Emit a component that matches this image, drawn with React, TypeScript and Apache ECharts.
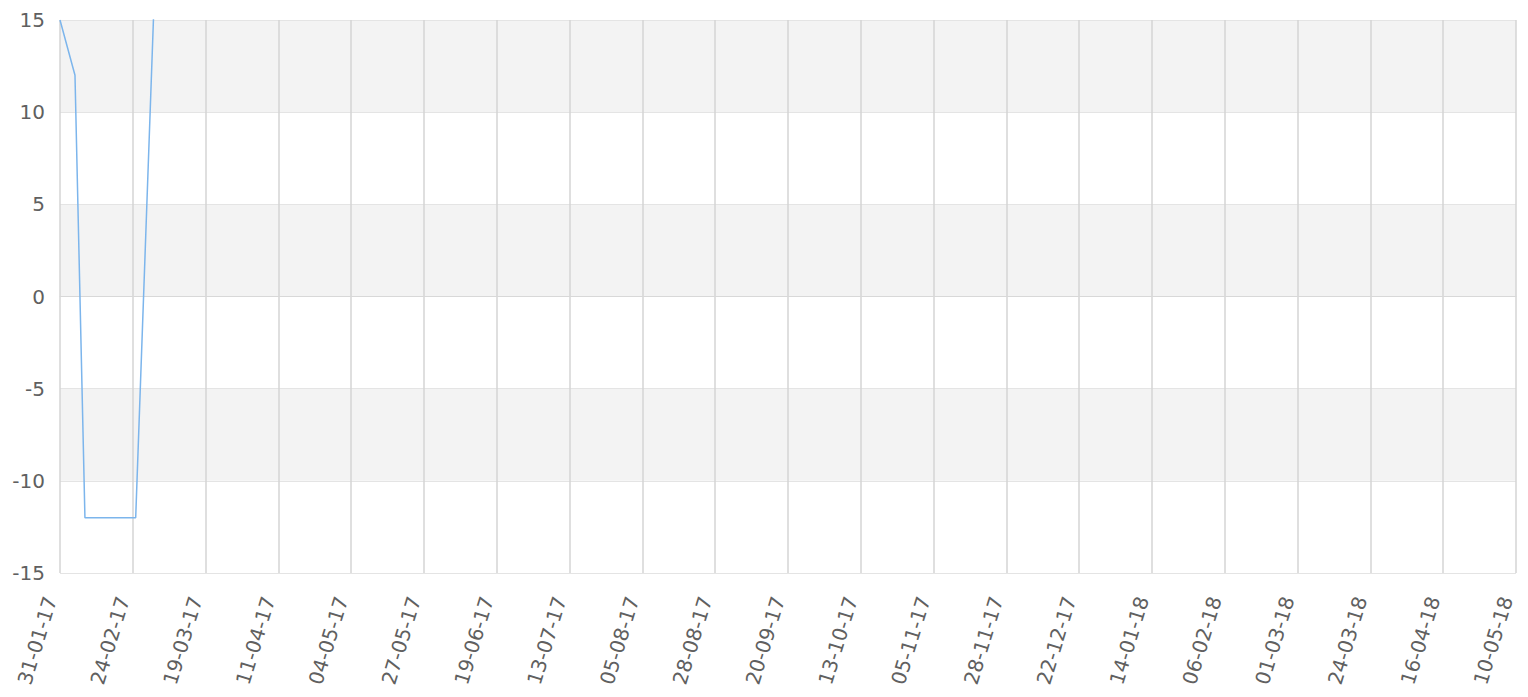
import React, { useEffect, useRef } from "react";
import * as echarts from "echarts";

// Data (dates in UTC, values)
const pointDates: string[] = [
  "2017-01-31T21:36:00Z",
  "2017-02-05T16:00:00Z",
  "2017-02-08T20:00:00Z",
  "2017-02-24T23:30:00Z",
  "2017-03-03T23:30:00Z",
];
const pointValues: number[] = [15, 12, -12, -12, 21.5];

// Axis settings
const AXIS_START_ISO = "2017-01-31T21:36:00Z";
const TICK_COUNT = 20;
const TICK_STEP_DAYS = 23.16;
const yTicks: number[] = [-15, -10, -5, 0, 5, 10, 15];

const DAY_MS = 86400000;
const axisStartMs = Date.parse(AXIS_START_ISO);

function dayOffset(iso: string): number {
  return (Date.parse(iso) - axisStartMs) / DAY_MS;
}

function fmtDate(v: number): string {
  const d = new Date(axisStartMs + v * DAY_MS);
  const dd = String(d.getUTCDate()).padStart(2, "0");
  const mm = String(d.getUTCMonth() + 1).padStart(2, "0");
  const yy = String(d.getUTCFullYear() % 100).padStart(2, "0");
  return `${dd}-${mm}-${yy}`;
}

const FONT = "DejaVu Sans";
const LABEL_COLOR = "#606060";

export default function App() {
  const ref = useRef<HTMLDivElement>(null);
  useEffect(() => {
    if (!ref.current) return;
    const chart = echarts.init(ref.current, undefined, { renderer: "svg" });
    const seriesData = pointDates.map((d, i) => [dayOffset(d), pointValues[i]]);
    chart.setOption({
      animation: false,
      backgroundColor: "#ffffff",
      grid: { left: 60, right: 12, top: 20, bottom: 124, containLabel: false },
      xAxis: {
        type: "value",
        min: 0,
        max: TICK_COUNT * TICK_STEP_DAYS,
        interval: TICK_STEP_DAYS,
        axisLine: { show: true, lineStyle: { color: "#d8d8d8", width: 1 } },
        axisTick: { show: false },
        splitLine: { show: true, lineStyle: { color: "#d4d4d4", width: 1.5 } },
        axisLabel: {
          rotate: 73,
          margin: 27,
          verticalAlign: "bottom",
          color: LABEL_COLOR,
          fontFamily: FONT,
          fontSize: 20,
          showMinLabel: true,
          showMaxLabel: true,
          formatter: (v: number) => fmtDate(v),
        },
      },
      yAxis: {
        type: "value",
        min: yTicks[0],
        max: yTicks[yTicks.length - 1],
        interval: 5,
        axisLine: { show: false },
        axisTick: { show: false },
        splitLine: { show: true, lineStyle: { color: "#e4e4e4", width: 1 } },
        splitArea: { show: true, areaStyle: { color: ["#ffffff", "#f3f3f3"] } },
        axisLabel: {
          margin: 15,
          color: LABEL_COLOR,
          fontFamily: FONT,
          fontSize: 20,
        },
      },
      series: [
        {
          type: "line",
          data: seriesData,
          showSymbol: false,
          symbol: "none",
          clip: true,
          lineStyle: { color: "#7cb5ec", width: 1.5 },
        },
      ],
    });
    return () => chart.dispose();
  }, []);
  return (
    <div
      ref={ref}
      style={{ position: "fixed", left: 0, top: 0, width: 1528, height: 697 }}
    />
  );
}
